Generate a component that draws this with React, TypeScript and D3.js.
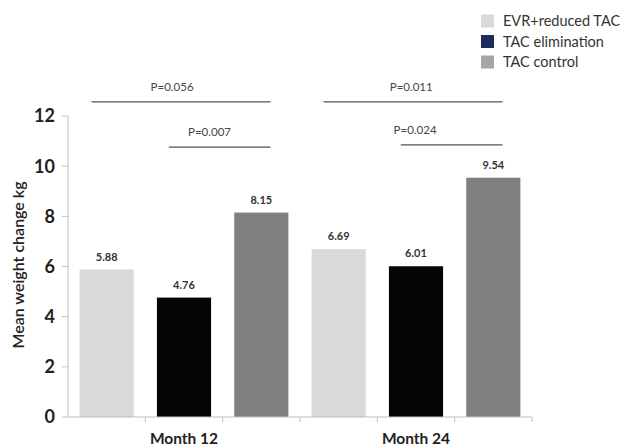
import React from "react";
import * as d3 from "d3";

const groups = ["Month 12", "Month 24"];
const seriesNames = ["EVR+reduced TAC", "TAC elimination", "TAC control"];
const evrValues = [5.88, 6.69];
const elimValues = [4.76, 6.01];
const controlValues = [8.15, 9.54];
const yTicks = [0, 2, 4, 6, 8, 10, 12];
const pLabels = ["P=0.056", "P=0.007", "P=0.011", "P=0.024"];
const pFrom = [0, 1, 3, 4];
const pTo = [2, 2, 5, 5];
const pLevel = [12.56, 10.76, 12.56, 10.85];
const pTextPos = [0.45, 0.4, 0.49, 0.14];

const barColors = ["#d9d9d9", "#050505", "#808080"];
const legendColors = ["#d9d9d9", "#1f2a5e", "#a6a6a6"];

export default function App() {
  const W = 621, H = 446;
  const left = 68, right = 532, top = 116, bottom = 417;
  const seriesVals = [evrValues, elimValues, controlValues];
  const bars: { key: string; g: number; s: number; v: number }[] = [];
  groups.forEach((g, gi) =>
    seriesNames.forEach((s, si) =>
      bars.push({ key: g + "|" + s, g: gi, s: si, v: seriesVals[si][gi] })
    )
  );
  const x = d3.scaleBand<string>().domain(bars.map((b) => b.key)).range([left, right]).paddingInner(0.3).paddingOuter(0.15);
  const y = d3.scaleLinear().domain([0, 12]).range([bottom, top]);
  const step = x.step();
  const bw = x.bandwidth();
  const font = "Lato, 'Open Sans', sans-serif";
  const axisColor = "#bfbfbf";

  return (
    <svg width={W} height={H} style={{ position: "absolute", left: 0, top: 0, fontFamily: font }}>
      {/* y axis */}
      <line x1={left} x2={left} y1={y(12)} y2={y(0)} stroke={axisColor} strokeWidth={1} />
      {yTicks.map((t) => (
        <g key={t}>
          <line x1={left - 6} x2={left} y1={y(t)} y2={y(t)} stroke={axisColor} />
          <text x={55} y={y(t)} dy="0.36em" textAnchor="end" fontSize={18} fontWeight="bold" fill="#222">
            {t}
          </text>
        </g>
      ))}
      <text
        transform={`translate(24,265) rotate(-90)`}
        textAnchor="middle"
        fontSize={16}
        fontWeight="600"
        fill="#222"
      >
        Mean weight change kg
      </text>
      {/* bars */}
      {bars.map((b) => (
        <g key={b.key}>
          <rect x={x(b.key)} y={y(b.v)} width={bw} height={y(0) - y(b.v)} fill={barColors[b.s]} />
          <text x={(x(b.key) as number) + bw / 2} y={y(b.v) - 9} textAnchor="middle" fontSize={11} fontWeight="bold" fill="#333">
            {b.v.toFixed(2)}
          </text>
        </g>
      ))}
      {/* x axis */}
      <line x1={left} x2={right} y1={y(0)} y2={y(0)} stroke={axisColor} />
      {d3.range(1, bars.length + 1).map((i) => (
        <line key={i} x1={left + i * step} x2={left + i * step} y1={y(0)} y2={y(0) + 5} stroke={axisColor} />
      ))}
      {groups.map((g, gi) => (
        <text key={g} x={(x(bars[gi * 3 + 1].key) as number) + bw / 2} y={444} textAnchor="middle" fontSize={15.5} fontWeight="bold" fill="#222">
          {g}
        </text>
      ))}
      {/* p-value brackets */}
      {pLabels.map((p, i) => {
        const x1 = (x(bars[pFrom[i]].key) as number) + bw * 0.22;
        const x2 = (x(bars[pTo[i]].key) as number) + bw * 0.67;
        const yy = y(pLevel[i]);
        return (
          <g key={p}>
            <line x1={x1} x2={x2} y1={yy} y2={yy} stroke="#555" strokeWidth={1.2} />
            <text x={x1 + (x2 - x1) * pTextPos[i]} y={yy - 11} textAnchor="middle" fontSize={11.5} fill="#444">
              {p}
            </text>
          </g>
        );
      })}
      {/* legend */}
      {seriesNames.map((s, i) => (
        <g key={s} transform={`translate(481,${21 + i * 20.5})`}>
          <rect x={0} y={-6.5} width={13} height={13} fill={legendColors[i]} />
          <text x={22} y={0} dy="0.35em" fontSize={14.5} fill="#333">
            {s}
          </text>
        </g>
      ))}
    </svg>
  );
}
